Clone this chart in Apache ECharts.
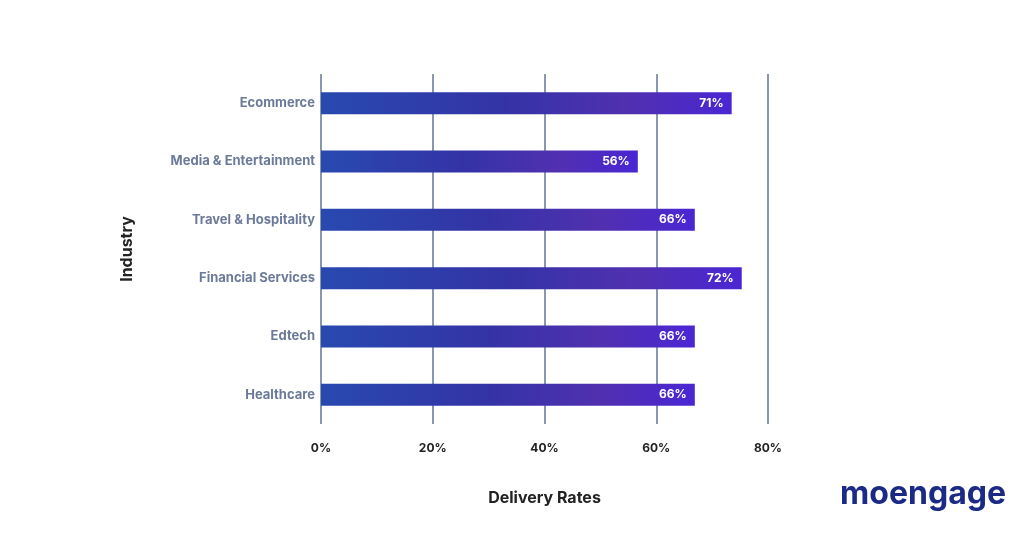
<!DOCTYPE html>
<html><head><meta charset="utf-8">
<script src="https://cdn.jsdelivr.net/npm/echarts@6/dist/echarts.min.js"></script>
<style>html,body{margin:0;background:#fff}#main{width:1024px;height:536px}</style>
</head><body><div id="main"></div>
<script>
var industries = ['Healthcare', 'Edtech', 'Financial Services', 'Travel & Hospitality', 'Media & Entertainment', 'Ecommerce'];
// bar lengths as drawn in the picture (they don't match the printed labels exactly)
var barValues = [66.9, 66.9, 75.3, 66.9, 56.7, 73.5];
var barLabels = ['66%', '66%', '72%', '66%', '56%', '71%'];
var xTicks = [0, 20, 40, 60, 80];

var myChart = echarts.init(document.getElementById('main'));

var barColor = new echarts.graphic.LinearGradient(0, 0, 1, 0, [
    {offset: 0, color: '#2849b0'},
    {offset: 0.45, color: '#3433a6'},
    {offset: 0.75, color: '#5130b0'},
    {offset: 1, color: '#4a26d4'}
]);

var option = {
    grid: {left: 321, right: 256, top: 74, bottom: 112},
    xAxis: {
        type: 'value',
        min: 0, max: 80, interval: 20,
        axisLine: {show: false},
        axisTick: {show: false},
        splitLine: {lineStyle: {color: '#8a98ad', width: 2}},
        axisLabel: {
            formatter: '{value}%', margin: 18,
            color: '#222', fontWeight: 'bold', fontSize: 12, fontFamily: 'Inter'
        },
        name: 'Delivery Rates', nameLocation: 'middle', nameGap: 66,
        nameTextStyle: {color: '#222', fontWeight: 'bold', fontSize: 16, fontFamily: 'Inter'}
    },
    yAxis: {
        type: 'category',
        data: industries,
        axisLine: {show: false},
        axisTick: {show: false},
        axisLabel: {color: '#6b7a99', fontWeight: 'bold', fontSize: 13, margin: 6, fontFamily: 'Inter'},
        name: 'Industry', nameLocation: 'middle', nameGap: 186, nameRotate: 90,
        nameTextStyle: {color: '#222', fontWeight: 'bold', fontSize: 16, fontFamily: 'Inter'}
    },
    series: [{
        type: 'bar',
        data: barValues,
        barWidth: 22,
        itemStyle: {color: barColor},
        label: {
            show: true, position: 'insideRight', distance: 8,
            color: '#fff', fontWeight: 'bold', fontSize: 12, fontFamily: 'Inter',
            formatter: function (p) { return barLabels[p.dataIndex]; }
        }
    }],
    graphic: [{
        type: 'text', right: 18, top: 478,
        style: {text: 'moengage', fill: '#1b2a85', font: 'bold 32px Inter'}
    }]
};
myChart.setOption(option);
</script>
</body></html>
